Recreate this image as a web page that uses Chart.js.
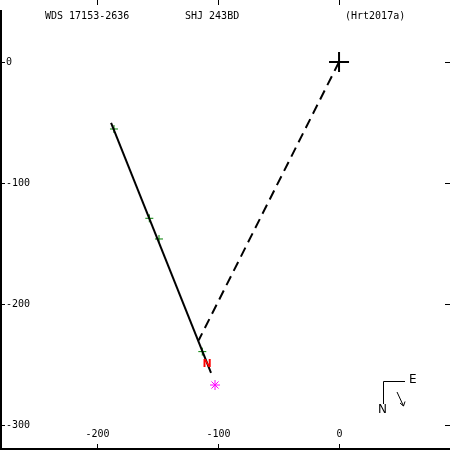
<!DOCTYPE html>
<html>
<head>
<meta charset="utf-8">
<script src="https://cdn.jsdelivr.net/npm/chart.js@4"></script>
<style>
  body { margin: 0; background: #fff; }
  canvas { display: block; }
</style>
</head>
<body>
<canvas id="orbitChart" width="450" height="450"></canvas>
<script>
// orbit track (solid) and node line (dashed), in mas
const orbitX = [-188.4, -105.8];
const orbitY = [-50.4, -257];
const nodeX = [0, -116];
const nodeY = [0, -230];
// measurements
const obsX = [-186, -156.8, -148.8, -113];
const obsY = [-55.4, -129.2, -146.3, -239.4];
const starX = [-102.5];
const starY = [-267];
const redX = [-109];
const redY = [-250];
// axis ticks
const xTicks = [-200, -100, 0];
const yTicks = [0, -100, -200, -300];
const titles = ['WDS 17153-2636', 'SHJ 243BD', '(Hrt2017a)'];

function pts(xs, ys) { return xs.map((x, i) => ({ x: x, y: ys[i] })); }

const FONT = '10px "DejaVu Sans Mono", monospace';

const decor = {
    id: 'decor',
    afterDatasetsDraw(chart) {
        const c = chart.ctx;
        const xs = chart.scales.x, ys = chart.scales.y;
        const W = chart.width, H = chart.height;
        c.save();
        c.strokeStyle = '#000';
        c.fillStyle = '#000';
        c.lineWidth = 2;
        c.beginPath();
        c.moveTo(1, 10); c.lineTo(1, H);
        c.moveTo(0, H - 1); c.lineTo(W, H - 1);
        c.stroke();

        c.lineWidth = 1;
        c.font = FONT;
        c.textBaseline = 'middle';
        c.textAlign = 'center';
        xTicks.forEach(v => {
            const px = Math.round(xs.getPixelForValue(v)) + 0.5;
            c.beginPath();
            c.moveTo(px, 0); c.lineTo(px, 5);
            c.moveTo(px, H - 6); c.lineTo(px, H);
            c.stroke();
            c.fillText(String(v), px, 434);
        });
        c.textAlign = 'left';
        yTicks.forEach(v => {
            const py = Math.round(ys.getPixelForValue(v)) + 0.5;
            c.beginPath();
            c.moveTo(0, py); c.lineTo(5, py);
            c.moveTo(W - 5, py); c.lineTo(W, py);
            c.stroke();
            c.fillText(String(v), 6, py);
        });

        // titles
        c.fillText(titles[0], 45, 16);
        c.fillText(titles[1], 185, 16);
        c.fillText(titles[2], 345, 16);

        // red marker
        c.fillStyle = '#ff0000';
        c.font = 'bold 11px "DejaVu Sans", sans-serif';
        c.textAlign = 'center';
        redX.forEach((v, i) => {
            c.fillText('N', xs.getPixelForValue(v), ys.getPixelForValue(redY[i]));
        });

        // compass
        c.fillStyle = '#000';
        c.font = '12px "DejaVu Sans", sans-serif';
        c.beginPath();
        c.moveTo(405, 381.5); c.lineTo(383.5, 381.5); c.lineTo(383.5, 404);
        c.moveTo(397, 392); c.lineTo(403.5, 406);
        c.moveTo(403.5, 406); c.lineTo(400, 403);
        c.moveTo(403.5, 406); c.lineTo(405, 401.5);
        c.stroke();
        c.textAlign = 'left';
        c.fillText('E', 409, 380);
        c.fillText('N', 378, 410);
        c.restore();
    }
};

new Chart(document.getElementById('orbitChart').getContext('2d'), {
    type: 'scatter',
    data: {
        datasets: [{
            data: pts(orbitX, orbitY),
            showLine: true,
            borderColor: '#000',
            borderWidth: 2,
            pointRadius: 0
        }, {
            data: pts(nodeX, nodeY),
            showLine: true,
            borderColor: '#000',
            borderWidth: 2,
            borderDash: [10, 6],
            pointRadius: 0
        }, {
            data: pts(obsX, obsY),
            pointStyle: 'cross',
            pointRadius: 4,
            borderColor: '#008000',
            borderWidth: 1
        }, {
            data: [{ x: 0, y: 0 }],
            pointStyle: 'cross',
            pointRadius: 10,
            borderColor: '#000',
            borderWidth: 2
        }, {
            data: pts(starX, starY),
            pointStyle: 'star',
            pointRadius: 5,
            borderColor: '#ff00ff',
            borderWidth: 1
        }]
    },
    options: {
        responsive: false,
        animation: false,
        layout: { padding: 0, autoPadding: false },
        plugins: { legend: { display: false }, tooltip: { enabled: false } },
        scales: {
            x: { type: 'linear', min: -280.2, max: 91.7, display: false },
            y: { type: 'linear', min: -320.7, max: 51.2, display: false }
        }
    },
    plugins: [decor]
});
</script>
</body>
</html>
